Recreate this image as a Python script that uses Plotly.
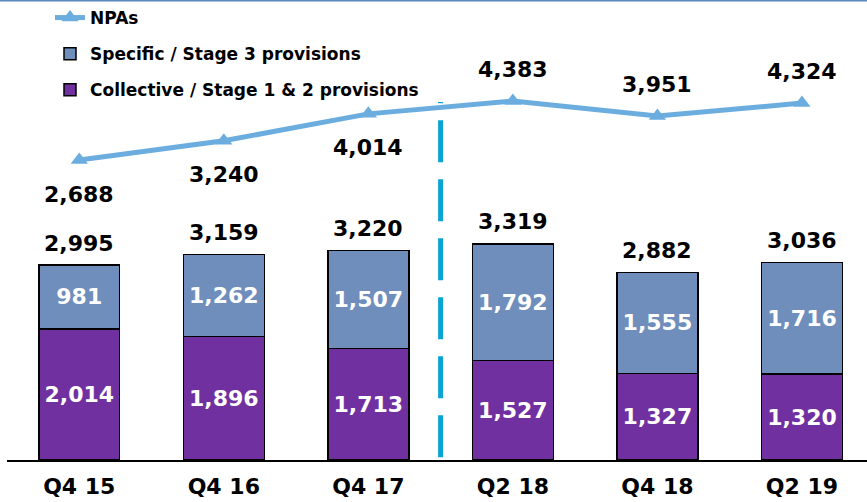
import plotly.graph_objects as go

# data
quarters = ['Q4 15', 'Q4 16', 'Q4 17', 'Q2 18', 'Q4 18', 'Q2 19']
collective = [2014, 1896, 1713, 1527, 1327, 1320]
specific = [981, 1262, 1507, 1792, 1555, 1716]
totals = [2995, 3159, 3220, 3319, 2882, 3036]   # as printed (rounded)
npas = [2688, 3240, 4014, 4383, 3951, 4324]

npa_label_below = [True, True, True, False, False, False]

FONT = "DejaVu Sans"
PURPLE = '#7030A0'
STEEL = '#6F8EBC'
NPA_BLUE = '#6CADDF'

fig = go.Figure()

fig.add_trace(go.Bar(
    x=quarters, y=collective,
    name='Collective / Stage 1 & 2 provisions',
    marker=dict(color=PURPLE, line=dict(color='black', width=1.5)),
    text=[f"{v:,}" for v in collective],
    textposition='inside', insidetextanchor='middle',
    textfont=dict(family=FONT, size=22, color='white', weight='bold'),
    width=0.56, legendgroup='c', legendrank=3,
))
fig.add_trace(go.Bar(
    x=quarters, y=specific,
    name='Specific / Stage 3 provisions',
    marker=dict(color=STEEL, line=dict(color='black', width=1.5)),
    text=[f"{v:,}" for v in specific],
    textposition='inside', insidetextanchor='middle',
    textfont=dict(family=FONT, size=22, color='white', weight='bold'),
    width=0.56, legendgroup='s', legendrank=2,
))
fig.add_trace(go.Scatter(
    x=quarters, y=npas, yaxis='y2',
    name='NPAs', mode='lines+markers',
    line=dict(color=NPA_BLUE, width=5),
    marker=dict(symbol='triangle-up', size=15, color=NPA_BLUE),
    legendgroup='n', legendrank=1,
))

# totals above bars
for q, t in zip(quarters, totals):
    fig.add_annotation(x=q, y=t, text=f"{t:,}", showarrow=False,
                       yanchor='middle', yshift=22,
                       font=dict(family=FONT, size=22, color='black', weight='bold'))

# NPA labels
for q, v, below in zip(quarters, npas, npa_label_below):
    fig.add_annotation(x=q, y=v, yref='y2', text=f"{v:,}", showarrow=False,
                       yanchor='middle', yshift=-34 if below else 32,
                       font=dict(family=FONT, size=22, color='black', weight='bold'))

# divider between reporting regimes
fig.add_shape(type='line', xref='x', yref='paper', x0=2.5, x1=2.5, y0=0.006, y1=0.778,
              line=dict(color='#0AA3D3', width=5, dash='42px,17px'))
# top border
fig.add_shape(type='line', xref='paper', yref='paper', x0=-0.01, x1=1, y0=1, y1=1,
              line=dict(color='#5B87C0', width=3))

fig.update_layout(
    width=867, height=502,
    margin=dict(l=7, r=0, t=0, b=42),
    barmode='stack',
    plot_bgcolor='white', paper_bgcolor='white',
    font=dict(family=FONT, color='black'),
    showlegend=True,
    legend=dict(x=0.05, y=1.0, xanchor='left', yanchor='top',
                traceorder='grouped', tracegroupgap=11,
                font=dict(family=FONT, size=17, color='black', weight='bold'),
                bgcolor='rgba(0,0,0,0)'),
    xaxis=dict(range=[-0.5, 5.45], showline=True, linecolor='black', linewidth=2,
               ticks='', showgrid=False, zeroline=False, ticklabelstandoff=6,
               tickfont=dict(family=FONT, size=22, color='black', weight='bold')),
    yaxis=dict(range=[0, 7066], visible=False, showgrid=False),
    yaxis2=dict(range=[-5933, 7286], overlaying='y', visible=False, showgrid=False),
)

# drop the default page margin so the chart sits at the window origin
fig.write_html("out.html", config={'displayModeBar': False},
               post_script="document.body.style.margin='0';")
